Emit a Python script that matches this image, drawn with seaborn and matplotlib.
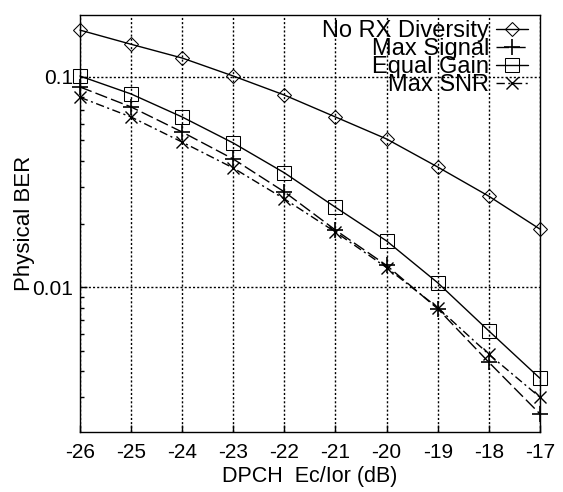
import numpy as np
import pandas as pd
import matplotlib
matplotlib.use("Agg")
import matplotlib.pyplot as plt
import seaborn as sns
from matplotlib.ticker import LogLocator, NullFormatter, FixedLocator

sns.set_theme(style="white")
plt.rcParams['font.family'] = ['Liberation Sans', 'DejaVu Sans']

ec_ior = [-26, -25, -24, -23, -22, -21, -20, -19, -18, -17]
no_rx_diversity = [0.167, 0.143, 0.123, 0.101, 0.082, 0.0645, 0.0507, 0.0373, 0.0271, 0.0189]
max_signal = [0.0896, 0.072, 0.0547, 0.0407, 0.0284, 0.0187, 0.0127, 0.0079, 0.0044, 0.0025]
equal_gain = [0.101, 0.083, 0.0645, 0.0485, 0.0350, 0.0240, 0.0166, 0.0105, 0.0062, 0.00369]
max_snr = [0.080, 0.0645, 0.049, 0.0369, 0.0263, 0.0183, 0.0124, 0.0080, 0.0048, 0.0030]

series_names = ["No RX Diversity", "Max Signal", "Equal Gain", "Max SNR"]
series_values = [no_rx_diversity, max_signal, equal_gain, max_snr]
xtick_labels = ["-26", "-25", "-24", "-23", "-22", "-21", "-20", "-19", "-18", "-17"]

styles = {
    "No RX Diversity": dict(marker="D", linestyle="-", markersize=7, markerfacecolor="none"),
    "Max Signal": dict(marker="+", linestyle=(0, (9, 3)), markersize=12, markeredgewidth=1.2),
    "Equal Gain": dict(marker="s", linestyle="-", markersize=9.5, markerfacecolor="none"),
    "Max SNR": dict(marker="x", linestyle=(0, (6, 2.5, 1.5, 2.5)), markersize=8, markeredgewidth=1.0),
}

df = pd.concat([pd.DataFrame({"x": ec_ior, "ber": v, "series": n})
                for n, v in zip(series_names, series_values)], ignore_index=True)

fig = plt.figure(figsize=(5.63, 4.92), dpi=100)
ax = fig.add_axes([0.142, 0.122, 0.817, 0.8475])

for n in series_names:
    sub = df[df["series"] == n]
    sns.lineplot(data=sub, x="x", y="ber", ax=ax, color="black", linewidth=1.0,
                 markeredgecolor="black", label=n, clip_on=False, zorder=3, **styles[n])

ax.set_yscale("log")
ax.set_xlim(-26, -17)
ax.set_ylim(0.00205, 0.197)
ax.set_xticks(ec_ior)
ax.set_xticklabels(xtick_labels)
ax.yaxis.set_major_locator(FixedLocator([0.01, 0.1]))
ax.set_yticklabels(["0.01", "0.1"])
ax.yaxis.set_minor_locator(LogLocator(base=10, subs=np.arange(2, 10)))
ax.yaxis.set_minor_formatter(NullFormatter())
ax.tick_params(axis="both", which="major", direction="in", length=5, width=1,
               color="black", labelsize=15, labelcolor="black",
               left=True, bottom=True)
ax.tick_params(axis="x", which="major", pad=8)
ax.tick_params(axis="y", which="major", pad=5)
ax.tick_params(axis="y", which="minor", direction="in", length=3, width=1, color="black", left=True)

ax.grid(True, which="major", color="black", linestyle=(0, (1.5, 1.5)), linewidth=1.0)
ax.set_axisbelow(True)
for side, sp in ax.spines.items():
    sp.set_color("black")
    sp.set_linewidth(1.0)
    if side != "left":
        sp.set_linestyle((0, (1.5, 1.0)))

ax.set_xlabel("DPCH  Ec/Ior (dB)", fontsize=15.5, color="black", labelpad=3)
ax.set_ylabel("Physical BER", fontsize=16, color="black")
ax.yaxis.set_label_coords(-0.097, 0.5)

leg = ax.legend(loc="upper right", bbox_to_anchor=(0.995, 1.01), frameon=False,
                markerfirst=False, fontsize=17, labelspacing=-0.17, handlelength=1.35,
                handletextpad=0.3, borderaxespad=0.0)
for t in leg.get_texts():
    t.set_color("black")

fig.savefig("out.png", dpi=100)
